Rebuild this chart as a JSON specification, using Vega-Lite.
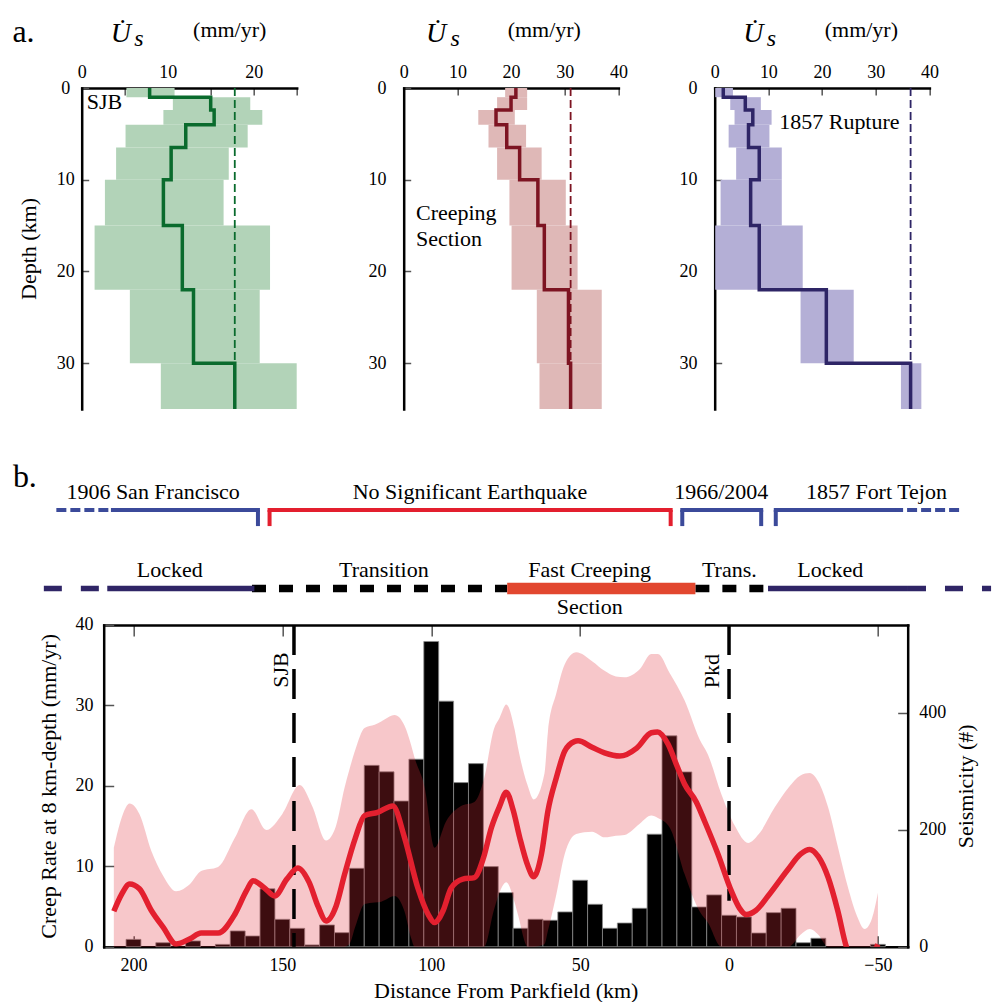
{
"$schema": "https://vega.github.io/schema/vega-lite/v6.json",
"background": "white",
"padding": {"left": 11.7, "top": 16, "right": 0, "bottom": 0},
"config": {
  "font": "Liberation Serif",
  "view": {"stroke": null},
  "axis": {"labelFont": "Liberation Serif", "titleFont": "Liberation Serif", "labelColor": "#000", "titleColor": "#000", "domainColor": "#000", "tickColor": "#555", "grid": false, "titleFontWeight": "normal", "labelFontSize": 18, "titleFontSize": 22, "labelFlush": false, "labelOverlap": false, "domainWidth": 2.5, "tickWidth": 1.5, "domainCap": "square"},
  "text": {"font": "Liberation Serif", "fontSize": 22, "color": "#000"}
},
"datasets": {
  "sjb": [
    {"top": 0, "bot": 1, "rate": 7.9, "lo": 5.2, "hi": 10.8},
    {"top": 1, "bot": 2.4, "rate": 15.0, "lo": 10.6, "hi": 19.6},
    {"top": 2.4, "bot": 4, "rate": 15.4, "lo": 9.5, "hi": 21.0},
    {"top": 4, "bot": 6.5, "rate": 12.1, "lo": 5.1, "hi": 19.3},
    {"top": 6.5, "bot": 10, "rate": 10.4, "lo": 4.0, "hi": 17.1},
    {"top": 10, "bot": 15, "rate": 9.5, "lo": 2.7, "hi": 16.5},
    {"top": 15, "bot": 22, "rate": 11.7, "lo": 1.5, "hi": 21.9},
    {"top": 22, "bot": 30, "rate": 13.0, "lo": 5.6, "hi": 20.7},
    {"top": 30, "bot": 35, "rate": 17.8, "lo": 9.2, "hi": 25.0}
  ],
  "creeping": [
    {"top": 0, "bot": 1, "rate": 20.9, "lo": 18.9, "hi": 23.0},
    {"top": 1, "bot": 2.4, "rate": 20.0, "lo": 17.4, "hi": 23.0},
    {"top": 2.4, "bot": 4, "rate": 17.2, "lo": 13.9, "hi": 20.7},
    {"top": 4, "bot": 6.5, "rate": 19.2, "lo": 15.8, "hi": 22.8},
    {"top": 6.5, "bot": 10, "rate": 21.6, "lo": 17.4, "hi": 25.7},
    {"top": 10, "bot": 15, "rate": 25.0, "lo": 19.7, "hi": 30.2},
    {"top": 15, "bot": 22, "rate": 26.2, "lo": 20.1, "hi": 32.4},
    {"top": 22, "bot": 30, "rate": 30.7, "lo": 24.8, "hi": 36.9},
    {"top": 30, "bot": 35, "rate": 31.1, "lo": 25.3, "hi": 36.9}
  ],
  "rupture": [
    {"top": 0, "bot": 1, "rate": 1.6, "lo": 0.1, "hi": 3.4},
    {"top": 1, "bot": 2.4, "rate": 5.7, "lo": 2.9, "hi": 8.6},
    {"top": 2.4, "bot": 4, "rate": 7.1, "lo": 3.7, "hi": 10.6},
    {"top": 4, "bot": 6.5, "rate": 6.3, "lo": 2.6, "hi": 10.2},
    {"top": 6.5, "bot": 10, "rate": 8.3, "lo": 4.0, "hi": 12.5},
    {"top": 10, "bot": 15, "rate": 6.7, "lo": 1.1, "hi": 12.5},
    {"top": 15, "bot": 22, "rate": 8.3, "lo": 0.1, "hi": 16.4},
    {"top": 22, "bot": 30, "rate": 20.8, "lo": 16.0, "hi": 25.9},
    {"top": 30, "bot": 35, "rate": 36.5, "lo": 34.7, "hi": 38.5}
  ],
  "seismicity": [
    {"start": 197.5, "end": 202.5, "count": 12.5},
    {"start": 187.5, "end": 192.5, "count": 6.8},
    {"start": 177.5, "end": 182.5, "count": 9.8},
    {"start": 167.5, "end": 172.5, "count": 4},
    {"start": 162.5, "end": 167.5, "count": 26.9},
    {"start": 157.5, "end": 162.5, "count": 18.3},
    {"start": 152.5, "end": 157.5, "count": 99},
    {"start": 147.5, "end": 152.5, "count": 46.8},
    {"start": 142.5, "end": 147.5, "count": 31.4},
    {"start": 137.5, "end": 142.5, "count": 3},
    {"start": 132.5, "end": 137.5, "count": 37.1},
    {"start": 127.5, "end": 132.5, "count": 24},
    {"start": 122.5, "end": 127.5, "count": 134},
    {"start": 117.5, "end": 122.5, "count": 310},
    {"start": 112.5, "end": 117.5, "count": 299},
    {"start": 107.5, "end": 112.5, "count": 249},
    {"start": 102.5, "end": 107.5, "count": 320.6},
    {"start": 97.5, "end": 102.5, "count": 521.8},
    {"start": 92.5, "end": 97.5, "count": 419.8},
    {"start": 87.5, "end": 92.5, "count": 280.6},
    {"start": 82.5, "end": 87.5, "count": 313},
    {"start": 77.5, "end": 82.5, "count": 136.9},
    {"start": 72.5, "end": 77.5, "count": 92.4},
    {"start": 67.5, "end": 72.5, "count": 31.5},
    {"start": 62.5, "end": 67.5, "count": 46.9},
    {"start": 57.5, "end": 62.5, "count": 45.2},
    {"start": 52.5, "end": 57.5, "count": 59.4},
    {"start": 47.5, "end": 52.5, "count": 113.6},
    {"start": 42.5, "end": 47.5, "count": 72.5},
    {"start": 37.5, "end": 42.5, "count": 31.5},
    {"start": 32.5, "end": 37.5, "count": 40.5},
    {"start": 27.5, "end": 32.5, "count": 65.7},
    {"start": 22.5, "end": 27.5, "count": 192.3},
    {"start": 17.5, "end": 22.5, "count": 360.5},
    {"start": 12.5, "end": 17.5, "count": 298.8},
    {"start": 7.5, "end": 12.5, "count": 67.9},
    {"start": 2.5, "end": 7.5, "count": 88.5},
    {"start": -2.5, "end": 2.5, "count": 53.7},
    {"start": -7.5, "end": -2.5, "count": 50.8},
    {"start": -12.5, "end": -7.5, "count": 23.4},
    {"start": -17.5, "end": -12.5, "count": 58.2},
    {"start": -22.5, "end": -17.5, "count": 65.7},
    {"start": -27.5, "end": -22.5, "count": 6.8},
    {"start": -32.5, "end": -27.5, "count": 14.4},
    {"start": -52.5, "end": -47.5, "count": 4}
  ],
  "creepBand": [
    {"d": 206.6, "lo": 0, "hi": 12.3},
    {"d": 204, "lo": 0, "hi": 16},
    {"d": 201.3, "lo": 0, "hi": 17.8},
    {"d": 198, "lo": 0, "hi": 16.5},
    {"d": 194, "lo": 0, "hi": 11.9},
    {"d": 190, "lo": 0, "hi": 8.8},
    {"d": 185.7, "lo": 0, "hi": 6.9},
    {"d": 181, "lo": 0, "hi": 7.8},
    {"d": 177.3, "lo": 0, "hi": 9.4},
    {"d": 171.6, "lo": 0, "hi": 9.9},
    {"d": 166, "lo": 0, "hi": 13.5},
    {"d": 160.4, "lo": 0, "hi": 17.1},
    {"d": 155.4, "lo": 0, "hi": 14.5},
    {"d": 150, "lo": 0, "hi": 16.5},
    {"d": 144.2, "lo": 0, "hi": 20.1},
    {"d": 140, "lo": 0, "hi": 17.5},
    {"d": 135.3, "lo": 0, "hi": 13.2},
    {"d": 132, "lo": 0, "hi": 15},
    {"d": 129.1, "lo": 0, "hi": 19.8},
    {"d": 127.5, "lo": 0.3, "hi": 22},
    {"d": 125.5, "lo": 2.5, "hi": 24.5},
    {"d": 122.4, "lo": 5.3, "hi": 27.2},
    {"d": 119, "lo": 5.5, "hi": 27.6},
    {"d": 116.8, "lo": 5.6, "hi": 28.0},
    {"d": 112.3, "lo": 6.3, "hi": 28.8},
    {"d": 109, "lo": 4.4, "hi": 27.5},
    {"d": 106.7, "lo": 1, "hi": 25},
    {"d": 105.6, "lo": 0, "hi": 23.5},
    {"d": 102.2, "lo": 0, "hi": 19.8},
    {"d": 98.9, "lo": 0, "hi": 12.3},
    {"d": 95, "lo": 0, "hi": 15.6},
    {"d": 90, "lo": 0, "hi": 17.5},
    {"d": 85.5, "lo": 0, "hi": 18.0},
    {"d": 82.2, "lo": 0, "hi": 21.0},
    {"d": 79, "lo": 4.5, "hi": 27},
    {"d": 77, "lo": 6.8, "hi": 28.5},
    {"d": 74.8, "lo": 8.0, "hi": 30.1},
    {"d": 72, "lo": 5.5, "hi": 27},
    {"d": 70.9, "lo": 4, "hi": 24.8},
    {"d": 67.6, "lo": 0, "hi": 20},
    {"d": 65.6, "lo": 0, "hi": 18.3},
    {"d": 62, "lo": 0.3, "hi": 21.5},
    {"d": 60.8, "lo": 2, "hi": 26.8},
    {"d": 58, "lo": 6.5, "hi": 31.5},
    {"d": 55.2, "lo": 11.5, "hi": 35.1},
    {"d": 51.3, "lo": 14.0, "hi": 36.6},
    {"d": 46, "lo": 14.3, "hi": 35.5},
    {"d": 41.8, "lo": 13.6, "hi": 34.3},
    {"d": 38, "lo": 13.8, "hi": 33.6},
    {"d": 35.1, "lo": 13.9, "hi": 33.5},
    {"d": 30, "lo": 15.3, "hi": 34.5},
    {"d": 26.1, "lo": 16.3, "hi": 36.4},
    {"d": 23.9, "lo": 16.0, "hi": 36.4},
    {"d": 19.9, "lo": 14.8, "hi": 34},
    {"d": 14.9, "lo": 9.0, "hi": 30.6},
    {"d": 9.9, "lo": 4.4, "hi": 25.8},
    {"d": 7.1, "lo": 3, "hi": 23.9},
    {"d": 2.6, "lo": 0, "hi": 19.0},
    {"d": -2, "lo": 0, "hi": 15},
    {"d": -6.4, "lo": 0, "hi": 12.9},
    {"d": -10, "lo": 0, "hi": 14},
    {"d": -15.3, "lo": 0, "hi": 17.3},
    {"d": -20, "lo": 0, "hi": 19.8},
    {"d": -24, "lo": 1.5, "hi": 21.3},
    {"d": -27.1, "lo": 2.2, "hi": 21.6},
    {"d": -30, "lo": 1.5, "hi": 20.5},
    {"d": -33.3, "lo": 0, "hi": 17.3},
    {"d": -36.5, "lo": 0, "hi": 12.5},
    {"d": -40, "lo": 0, "hi": 7.3},
    {"d": -43, "lo": 0, "hi": 3.8},
    {"d": -45.6, "lo": 0, "hi": 2.2},
    {"d": -48, "lo": 0, "hi": 3.5},
    {"d": -50, "lo": 0, "hi": 6.7}
  ],
  "creepRate": [
    {"d": 206.6, "rate": 4.4},
    {"d": 204, "rate": 6.5},
    {"d": 201.3, "rate": 7.8},
    {"d": 198, "rate": 7.2},
    {"d": 194, "rate": 4.5},
    {"d": 190, "rate": 2.4},
    {"d": 185.7, "rate": 0.35},
    {"d": 181, "rate": 1.0},
    {"d": 177.3, "rate": 1.7},
    {"d": 171.6, "rate": 1.7},
    {"d": 166, "rate": 4.0},
    {"d": 162, "rate": 7.0},
    {"d": 159.9, "rate": 8.2},
    {"d": 156, "rate": 7.3},
    {"d": 152.6, "rate": 6.3},
    {"d": 148.5, "rate": 8.4},
    {"d": 144.8, "rate": 9.8},
    {"d": 141, "rate": 8.0},
    {"d": 138, "rate": 5.0},
    {"d": 135.3, "rate": 3.2},
    {"d": 132, "rate": 5.0},
    {"d": 129.1, "rate": 9.0},
    {"d": 125.5, "rate": 13.5},
    {"d": 122.4, "rate": 16.3},
    {"d": 118, "rate": 16.7},
    {"d": 112.9, "rate": 17.5},
    {"d": 109, "rate": 13.6},
    {"d": 104.5, "rate": 7.3},
    {"d": 101, "rate": 4.0},
    {"d": 98.9, "rate": 3.0},
    {"d": 96, "rate": 4.5},
    {"d": 93.3, "rate": 7.3},
    {"d": 89.4, "rate": 8.4},
    {"d": 85.5, "rate": 8.6},
    {"d": 82.5, "rate": 11},
    {"d": 79.8, "rate": 14.8},
    {"d": 77, "rate": 17.5},
    {"d": 74.8, "rate": 19.2},
    {"d": 72.5, "rate": 17},
    {"d": 70.3, "rate": 13.6},
    {"d": 67.5, "rate": 10},
    {"d": 65.6, "rate": 8.7},
    {"d": 63, "rate": 11.5},
    {"d": 60.8, "rate": 16.9},
    {"d": 58, "rate": 21},
    {"d": 55.2, "rate": 24.3},
    {"d": 52, "rate": 25.5},
    {"d": 50.7, "rate": 25.6},
    {"d": 46, "rate": 24.8},
    {"d": 41.8, "rate": 24.1},
    {"d": 36.7, "rate": 23.7},
    {"d": 31, "rate": 24.7},
    {"d": 26.1, "rate": 26.6},
    {"d": 24, "rate": 26.7},
    {"d": 20.5, "rate": 25.2},
    {"d": 17.5, "rate": 22.5},
    {"d": 14.9, "rate": 20.2},
    {"d": 11, "rate": 18},
    {"d": 8.2, "rate": 15.6},
    {"d": 3.7, "rate": 11.5},
    {"d": -0.8, "rate": 6.9},
    {"d": -3.5, "rate": 4.8},
    {"d": -5.8, "rate": 4.0},
    {"d": -9, "rate": 4.5},
    {"d": -13.1, "rate": 6.3},
    {"d": -19.8, "rate": 9.6},
    {"d": -24, "rate": 11.5},
    {"d": -27.1, "rate": 12.1},
    {"d": -30, "rate": 11.2},
    {"d": -33.3, "rate": 8.6},
    {"d": -36.5, "rate": 4.5},
    {"d": -39.4, "rate": 0},
    {"d": -42, "rate": -2},
    {"d": -46, "rate": -2},
    {"d": -49, "rate": -0.5},
    {"d": -50, "rate": 0.3}
  ],
  "quakeSpans": [
    {"event": "1906 San Francisco", "from": 225.9, "to": 206.9, "known": false, "rupture": true},
    {"event": "1906 San Francisco", "from": 206.9, "to": 158.2, "known": true, "rupture": true},
    {"event": "No Significant Earthquake", "from": 154.3, "to": 19.6, "known": true, "rupture": false},
    {"event": "1966/2004", "from": 15.7, "to": -10.8, "known": true, "rupture": true},
    {"event": "1857 Fort Tejon", "from": -15.7, "to": -55.1, "known": true, "rupture": true},
    {"event": "1857 Fort Tejon", "from": -55.1, "to": -78.6, "known": false, "rupture": true}
  ],
  "quakeEnds": [
    {"event": "1906 San Francisco", "at": 158.2, "rupture": true},
    {"event": "No Significant Earthquake", "at": 154.3, "rupture": false},
    {"event": "No Significant Earthquake", "at": 19.6, "rupture": false},
    {"event": "1966/2004", "at": 15.7, "rupture": true},
    {"event": "1966/2004", "at": -10.8, "rupture": true},
    {"event": "1857 Fort Tejon", "at": -15.7, "rupture": true}
  ],
  "behavior": [
    {"state": "Locked", "from": 230.1, "to": 208.8, "known": false},
    {"state": "Locked", "from": 208.8, "to": 159.4, "known": true},
    {"state": "Transition", "from": 160.2, "to": 74.5, "known": true},
    {"state": "Fast Creeping", "from": 74.5, "to": 11.3, "known": true},
    {"state": "Trans.", "from": 11.3, "to": -13.1, "known": true},
    {"state": "Locked", "from": -13.1, "to": -60.1, "known": true},
    {"state": "Locked", "from": -60.1, "to": -88, "known": false}
  ],
  "regionLabels": [
    {"name": "1906 San Francisco", "d": 193.4, "row": "events"},
    {"name": "No Significant Earthquake", "d": 87.0, "row": "events"},
    {"name": "1966/2004", "d": 2.6, "row": "events"},
    {"name": "1857 Fort Tejon", "d": -49.5, "row": "events"},
    {"name": "Locked", "d": 187.8, "row": "behavior"},
    {"name": "Transition", "d": 115.9, "row": "behavior"},
    {"name": "Fast Creeping", "d": 46.8, "row": "behavior"},
    {"name": "Trans.", "d": -0.1, "row": "behavior"},
    {"name": "Locked", "d": -34, "row": "behavior"},
    {"name": "Section", "d": 46.8, "row": "below"}
  ]
},
"spacing": 45,
"vconcat": [
  {
    "bounds": "flush",
    "spacing": 0,
    "hconcat": [
      {
        "width": 215, "height": 321,
        "layer": [
          {"data": {"name": "sjb"}, "mark": {"type": "rect", "color": "#b2d3b8"},
           "encoding": {
             "x": {"field": "lo", "type": "quantitative", "scale": {"domain": [0, 25], "nice": false, "zero": false}, "axis": {"orient": "top", "values": [0, 5, 10, 15, 20, 25], "labelExpr": "datum.value % 10 === 0 ? datum.label : ''", "tickSize": -7, "labelPadding": 14, "title": null}},
             "x2": {"field": "hi"},
             "y": {"field": "top", "type": "quantitative", "scale": {"domain": [0, 35], "reverse": true, "nice": false, "zero": false}, "axis": {"values": [0, 10, 20, 30], "tickSize": -7, "labelPadding": 23.5, "labelAlign": "center", "title": "Depth (km)", "titlePadding": 16}},
             "y2": {"field": "bot"}}},
          {"data": {"values": [{}]}, "mark": {"type": "rule", "color": "#0a6b2d", "strokeDash": [8, 4], "strokeWidth": 1.8},
           "encoding": {"x": {"datum": 17.8, "type": "quantitative"}}},
          {"data": {"name": "sjb"}, "transform": [{"fold": ["top", "bot"], "as": ["end", "depth"]}],
           "mark": {"type": "line", "color": "#0a6b2d", "strokeWidth": 3.5, "strokeJoin": "miter"},
           "encoding": {"x": {"field": "rate", "type": "quantitative"}, "y": {"field": "depth", "type": "quantitative"}, "order": {"value": null}}},
          {"data": {"values": [{}]}, "mark": {"type": "text", "text": "a.", "align": "left", "baseline": "alphabetic", "fontSize": 32},
           "encoding": {"x": {"datum": -8.06, "type": "quantitative"}, "y": {"datum": -4.97, "type": "quantitative"}}},
          {"data": {"values": [{}]}, "mark": {"type": "text", "text": "U\u0307", "align": "left", "baseline": "alphabetic", "fontSize": 28, "fontStyle": "italic"},
           "encoding": {"x": {"datum": 3.37, "type": "quantitative"}, "y": {"datum": -4.97, "type": "quantitative"}}},
          {"data": {"values": [{}]}, "mark": {"type": "text", "text": "s", "align": "left", "baseline": "alphabetic", "fontSize": 24, "fontStyle": "italic"},
           "encoding": {"x": {"datum": 6.1, "type": "quantitative"}, "y": {"datum": -4.61, "type": "quantitative"}}},
          {"data": {"values": [{}]}, "mark": {"type": "text", "text": "(mm/yr)", "align": "left", "baseline": "alphabetic", "fontSize": 22},
           "encoding": {"x": {"datum": 12.95, "type": "quantitative"}, "y": {"datum": -5.52, "type": "quantitative"}}},
          {"data": {"values": [{}]}, "mark": {"type": "text", "text": "SJB", "align": "left", "baseline": "alphabetic", "fontSize": 22},
           "encoding": {"x": {"datum": 0.58, "type": "quantitative"}, "y": {"datum": 2.29, "type": "quantitative"}}}
        ]
      },
      {"width": 106.7, "height": 321, "data": {"values": []}, "mark": "point"},
      {
        "width": 214.7, "height": 321,
        "layer": [
          {"data": {"name": "creeping"}, "mark": {"type": "rect", "color": "#dfb8b7"},
           "encoding": {
             "x": {"field": "lo", "type": "quantitative", "scale": {"domain": [0, 40], "nice": false, "zero": false}, "axis": {"orient": "top", "values": [0, 5, 10, 15, 20, 25, 30, 35, 40], "labelExpr": "datum.value % 10 === 0 ? datum.label : ''", "tickSize": -7, "labelPadding": 14, "title": null}},
             "x2": {"field": "hi"},
             "y": {"field": "top", "type": "quantitative", "scale": {"domain": [0, 35], "reverse": true, "nice": false, "zero": false}, "axis": {"values": [0, 10, 20, 30], "tickSize": -7, "labelPadding": 24.7, "title": null}},
             "y2": {"field": "bot"}}},
          {"data": {"values": [{}]}, "mark": {"type": "rule", "color": "#7d1422", "strokeDash": [8, 4], "strokeWidth": 1.8},
           "encoding": {"x": {"datum": 31.1, "type": "quantitative"}}},
          {"data": {"name": "creeping"}, "transform": [{"fold": ["top", "bot"], "as": ["end", "depth"]}],
           "mark": {"type": "line", "color": "#7d1422", "strokeWidth": 3.5, "strokeJoin": "miter"},
           "encoding": {"x": {"field": "rate", "type": "quantitative"}, "y": {"field": "depth", "type": "quantitative"}, "order": {"value": null}}},
          {"data": {"values": [{}]}, "mark": {"type": "text", "text": "U\u0307", "align": "left", "baseline": "alphabetic", "fontSize": 28, "fontStyle": "italic"},
           "encoding": {"x": {"datum": 4.15, "type": "quantitative"}, "y": {"datum": -4.97, "type": "quantitative"}}},
          {"data": {"values": [{}]}, "mark": {"type": "text", "text": "s", "align": "left", "baseline": "alphabetic", "fontSize": 24, "fontStyle": "italic"},
           "encoding": {"x": {"datum": 8.7, "type": "quantitative"}, "y": {"datum": -4.61, "type": "quantitative"}}},
          {"data": {"values": [{}]}, "mark": {"type": "text", "text": "(mm/yr)", "align": "left", "baseline": "alphabetic", "fontSize": 22},
           "encoding": {"x": {"datum": 19.37, "type": "quantitative"}, "y": {"datum": -5.52, "type": "quantitative"}}},
          {"data": {"values": [{}]}, "mark": {"type": "text", "text": "Creeping", "align": "left", "baseline": "alphabetic", "fontSize": 22},
           "encoding": {"x": {"datum": 2.29, "type": "quantitative"}, "y": {"datum": 14.36, "type": "quantitative"}}},
          {"data": {"values": [{}]}, "mark": {"type": "text", "text": "Section", "align": "left", "baseline": "alphabetic", "fontSize": 22},
           "encoding": {"x": {"datum": 2.29, "type": "quantitative"}, "y": {"datum": 17.27, "type": "quantitative"}}}
        ]
      },
      {"width": 95.4, "height": 321, "data": {"values": []}, "mark": "point"},
      {
        "width": 214.7, "height": 321,
        "layer": [
          {"data": {"name": "rupture"}, "mark": {"type": "rect", "color": "#b4afd6"},
           "encoding": {
             "x": {"field": "lo", "type": "quantitative", "scale": {"domain": [0, 40], "nice": false, "zero": false}, "axis": {"orient": "top", "values": [0, 5, 10, 15, 20, 25, 30, 35, 40], "labelExpr": "datum.value % 10 === 0 ? datum.label : ''", "tickSize": -7, "labelPadding": 14, "title": null}},
             "x2": {"field": "hi"},
             "y": {"field": "top", "type": "quantitative", "scale": {"domain": [0, 35], "reverse": true, "nice": false, "zero": false}, "axis": {"values": [0, 10, 20, 30], "tickSize": -7, "labelPadding": 24.7, "title": null}},
             "y2": {"field": "bot"}}},
          {"data": {"values": [{}]}, "mark": {"type": "rule", "color": "#2e2566", "strokeDash": [8, 4], "strokeWidth": 1.8},
           "encoding": {"x": {"datum": 36.5, "type": "quantitative"}}},
          {"data": {"name": "rupture"}, "transform": [{"fold": ["top", "bot"], "as": ["end", "depth"]}],
           "mark": {"type": "line", "color": "#2e2566", "strokeWidth": 3.5, "strokeJoin": "miter"},
           "encoding": {"x": {"field": "rate", "type": "quantitative"}, "y": {"field": "depth", "type": "quantitative"}, "order": {"value": null}}},
          {"data": {"values": [{}]}, "mark": {"type": "text", "text": "U\u0307", "align": "left", "baseline": "alphabetic", "fontSize": 28, "fontStyle": "italic"},
           "encoding": {"x": {"datum": 5.3, "type": "quantitative"}, "y": {"datum": -4.97, "type": "quantitative"}}},
          {"data": {"values": [{}]}, "mark": {"type": "text", "text": "s", "align": "left", "baseline": "alphabetic", "fontSize": 24, "fontStyle": "italic"},
           "encoding": {"x": {"datum": 9.7, "type": "quantitative"}, "y": {"datum": -4.61, "type": "quantitative"}}},
          {"data": {"values": [{}]}, "mark": {"type": "text", "text": "(mm/yr)", "align": "left", "baseline": "alphabetic", "fontSize": 22},
           "encoding": {"x": {"datum": 20.5, "type": "quantitative"}, "y": {"datum": -5.52, "type": "quantitative"}}},
          {"data": {"values": [{}]}, "mark": {"type": "text", "text": "1857 Rupture", "align": "left", "baseline": "alphabetic", "fontSize": 22},
           "encoding": {"x": {"datum": 12.03, "type": "quantitative"}, "y": {"datum": 4.47, "type": "quantitative"}}}
        ]
      }
    ]
  },
  {
    "bounds": "flush",
    "spacing": 0,
    "hconcat": [
      {"width": 21.7, "height": 321.7, "data": {"values": []}, "mark": "point"},
      {
        "width": 804, "height": 321.7,
        "resolve": {"scale": {"y": "independent"}, "axis": {"x": "independent"}},
        "layer": [
          {"data": {"name": "seismicity"},
           "mark": {"type": "rect", "color": "#000", "stroke": "#8a8a8a", "strokeWidth": 0.8},
           "encoding": {
             "x": {"field": "start", "type": "quantitative", "scale": {"domain": [-60, 210], "reverse": true, "nice": false, "zero": false}, "axis": {"orient": "top", "values": [200, 150, 100, 50, 0, -50], "labels": false, "tickSize": -11, "title": null}},
             "x2": {"field": "end"},
             "y": {"field": "count", "type": "quantitative", "scale": {"domain": [0, 550], "nice": false}, "axis": {"orient": "right", "values": [0, 200, 400], "tickSize": -10, "labelPadding": 21, "title": "Seismicity (#)", "titleAngle": 270, "titleBaseline": "top", "titlePadding": 10}},
             "y2": {"datum": 0}
           }},
          {"layer": [
            {"data": {"name": "creepBand"},
             "mark": {"type": "area", "color": "#e0303a", "opacity": 0.27, "interpolate": "monotone"},
             "encoding": {
               "x": {"field": "d", "type": "quantitative", "scale": {"domain": [-60, 210], "reverse": true, "nice": false, "zero": false}},
               "y": {"field": "lo", "type": "quantitative", "scale": {"domain": [0, 40], "nice": false, "zero": false}},
               "y2": {"field": "hi"}}},
            {"data": {"values": [{}]}, "mark": {"type": "rule", "color": "#000", "strokeWidth": 3.5, "strokeDash": [30, 14]},
             "encoding": {"x": {"datum": 146.1, "type": "quantitative"}}},
            {"data": {"values": [{}]}, "mark": {"type": "rule", "color": "#000", "strokeWidth": 3.5, "strokeDash": [30, 14]},
             "encoding": {"x": {"datum": 0, "type": "quantitative"}, "y": {"datum": 40, "type": "quantitative"}, "y2": {"datum": 5.7}}},
            {"data": {"name": "creepRate"},
             "mark": {"type": "line", "color": "#e3202f", "strokeWidth": 5.5, "interpolate": "monotone", "clip": true},
             "encoding": {
               "x": {"field": "d", "type": "quantitative", "scale": {"domain": [-60, 210], "reverse": true, "nice": false, "zero": false},
                     "axis": {"orient": "bottom", "values": [200, 150, 100, 50, 0, -50], "tickSize": -11, "labelPadding": 21, "title": "Distance From Parkfield (km)", "titlePadding": 6}},
               "y": {"field": "rate", "type": "quantitative", "scale": {"domain": [0, 40], "nice": false, "zero": false},
                     "axis": {"orient": "left", "values": [0, 10, 20, 30, 40], "tickSize": -10, "labelPadding": 20.7, "title": "Creep Rate at 8 km-depth (mm/yr)", "titlePadding": 14}}}},
            {"data": {"values": [{}]}, "mark": {"type": "text", "text": "SJB", "angle": 270, "align": "right", "baseline": "alphabetic", "fontSize": 22},
             "encoding": {"x": {"datum": 148.1, "type": "quantitative"}, "y": {"datum": 36.6, "type": "quantitative"}}},
            {"data": {"values": [{}]}, "mark": {"type": "text", "text": "Pkd", "angle": 270, "align": "right", "baseline": "alphabetic", "fontSize": 22},
             "encoding": {"x": {"datum": 3.2, "type": "quantitative"}, "y": {"datum": 36.4, "type": "quantitative"}}},
            {"data": {"values": [{}]}, "mark": {"type": "text", "text": "b.", "align": "left", "baseline": "alphabetic", "fontSize": 32},
             "encoding": {"x": {"datum": 240.5, "type": "quantitative"}, "y": {"datum": 57.1, "type": "quantitative"}}},
            {"data": {"name": "quakeSpans"}, "transform": [{"filter": "datum.rupture && !datum.known"}],
             "mark": {"type": "rule", "color": "#3b4a9a", "strokeWidth": 4, "strokeDash": [10, 4]},
             "encoding": {"x": {"field": "from", "type": "quantitative"}, "x2": {"field": "to"}, "y": {"datum": 54.3, "type": "quantitative"}}},
            {"data": {"name": "quakeSpans"}, "transform": [{"filter": "datum.rupture && datum.known"}],
             "mark": {"type": "rule", "color": "#3b4a9a", "strokeWidth": 4, "strokeCap": "square"},
             "encoding": {"x": {"field": "from", "type": "quantitative"}, "x2": {"field": "to"}, "y": {"datum": 54.3, "type": "quantitative"}}},
            {"data": {"name": "quakeSpans"}, "transform": [{"filter": "!datum.rupture"}],
             "mark": {"type": "rule", "color": "#e31f2e", "strokeWidth": 4, "strokeCap": "square"},
             "encoding": {"x": {"field": "from", "type": "quantitative"}, "x2": {"field": "to"}, "y": {"datum": 54.3, "type": "quantitative"}}},
            {"data": {"name": "quakeEnds"}, "transform": [{"filter": "datum.rupture"}],
             "mark": {"type": "rule", "color": "#3b4a9a", "strokeWidth": 4},
             "encoding": {"x": {"field": "at", "type": "quantitative"}, "y": {"datum": 54.3, "type": "quantitative"}, "y2": {"datum": 52.3}}},
            {"data": {"name": "quakeEnds"}, "transform": [{"filter": "!datum.rupture"}],
             "mark": {"type": "rule", "color": "#e31f2e", "strokeWidth": 4},
             "encoding": {"x": {"field": "at", "type": "quantitative"}, "y": {"datum": 54.3, "type": "quantitative"}, "y2": {"datum": 52.3}}},
            {"data": {"name": "behavior"}, "transform": [{"filter": "datum.state === 'Transition' || datum.state === 'Trans.'"}],
             "mark": {"type": "rule", "color": "#000", "strokeWidth": 7.5, "strokeDash": [14, 13]},
             "encoding": {"x": {"field": "from", "type": "quantitative"}, "x2": {"field": "to"}, "y": {"datum": 44.53, "type": "quantitative"}}},
            {"data": {"name": "behavior"}, "transform": [{"filter": "datum.state === 'Locked' && !datum.known"}],
             "mark": {"type": "rule", "color": "#2f2566", "strokeWidth": 5.5, "strokeDash": [18, 19]},
             "encoding": {"x": {"field": "from", "type": "quantitative"}, "x2": {"field": "to"}, "y": {"datum": 44.53, "type": "quantitative"}}},
            {"data": {"name": "behavior"}, "transform": [{"filter": "datum.state === 'Locked' && datum.known"}],
             "mark": {"type": "rule", "color": "#2f2566", "strokeWidth": 5.5},
             "encoding": {"x": {"field": "from", "type": "quantitative"}, "x2": {"field": "to"}, "y": {"datum": 44.53, "type": "quantitative"}}},
            {"data": {"name": "behavior"}, "transform": [{"filter": "datum.state === 'Fast Creeping'"}],
             "mark": {"type": "rule", "color": "#e2472f", "strokeWidth": 11.5},
             "encoding": {"x": {"field": "from", "type": "quantitative"}, "x2": {"field": "to"}, "y": {"datum": 44.53, "type": "quantitative"}}},
            {"data": {"name": "regionLabels"}, "transform": [{"filter": "datum.row === 'events'"}],
             "mark": {"type": "text", "align": "center", "baseline": "alphabetic", "fontSize": 22},
             "encoding": {"x": {"field": "d", "type": "quantitative"}, "y": {"datum": 55.65, "type": "quantitative"}, "text": {"field": "name"}}},
            {"data": {"name": "regionLabels"}, "transform": [{"filter": "datum.row === 'behavior'"}],
             "mark": {"type": "text", "align": "center", "baseline": "alphabetic", "fontSize": 22},
             "encoding": {"x": {"field": "d", "type": "quantitative"}, "y": {"datum": 46.0, "type": "quantitative"}, "text": {"field": "name"}}},
            {"data": {"name": "regionLabels"}, "transform": [{"filter": "datum.row === 'below'"}],
             "mark": {"type": "text", "align": "center", "baseline": "alphabetic", "fontSize": 22},
             "encoding": {"x": {"field": "d", "type": "quantitative"}, "y": {"datum": 41.35, "type": "quantitative"}, "text": {"field": "name"}}}
          ]}
        ]
      }
    ]
  }
]
}
